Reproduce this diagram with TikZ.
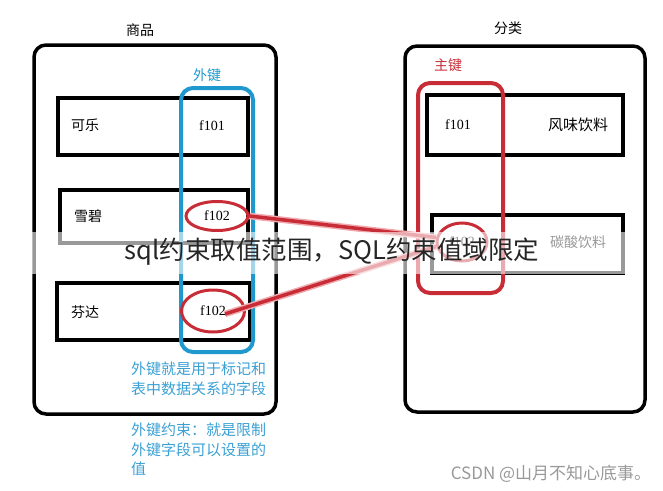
\documentclass[tikz,border=0pt]{standalone}
\usepackage{fontspec}
\setmainfont{Liberation Serif}
\newfontfamily\cjk{Noto Sans CJK SC}
\usetikzlibrary{shapes.geometric}
\definecolor{fkblue}{RGB}{30,152,205}
\definecolor{noteblue}{RGB}{58,160,212}
\definecolor{pkred}{RGB}{200,45,55}
\definecolor{halo}{RGB}{240,170,175}

\tikzset{
  table/.style={draw, line width=3.5pt, rounded corners=12pt},
  record/.style={draw, line width=4pt},
  fkbox/.style={draw=fkblue, line width=4pt, rounded corners=12pt},
  pkbox/.style={draw=pkred, line width=4pt, rounded corners=12pt},
  ring/.style={ellipse, draw=pkred, line width=3pt, font=\fontsize{14}{14}\selectfont},
  link/.style={pkred, line width=3.5pt, preaction={draw=halo, line width=6.5pt}},
  cn/.style={font=\cjk\fontsize{14}{14}\selectfont},
  val/.style={font=\fontsize{14}{14}\selectfont},
  note/.style={font=\cjk\fontsize{15}{19.5}\selectfont, text=noteblue, align=left, anchor=north west}
}

\begin{document}
\begin{tikzpicture}[x=1pt, y=-1pt, every node/.style={inner sep=0pt}]
\useasboundingbox (0,0) rectangle (663,490);
\node[table, minimum width=242pt, minimum height=369pt] (goods) at (155,229.5) {};
\node[table, minimum width=240pt, minimum height=366pt] (kinds) at (525,229) {};
\node[cn] (goodsname) at (140,30) {商品};
\node[cn] (kindsname) at (508,28) {分类};

\node[record, minimum width=190pt, minimum height=57pt] (g1) at (153,126.5) {};
\node[record, minimum width=188pt, minimum height=53pt] (g2) at (154,216.5) {};
\node[record, minimum width=193pt, minimum height=57pt] (g3) at (153.5,311.5) {};
\node[record, minimum width=196pt, minimum height=60pt] (c1) at (525,125) {};
\node[record, minimum width=191pt, minimum height=58pt] (c2) at (527.5,244) {};

\node[fkbox, minimum width=72pt, minimum height=264pt] (fk) at (217,220) {};
\node[pkbox, minimum width=85pt, minimum height=210pt] (pk) at (460.5,188) {};
\node[cn, text=fkblue] (fkname) at (207,75) {外键};
\node[cn, text=pkred] (pkname) at (448,65) {主键};

\node[cn] (n1) at (85,125) {可乐};
\node[cn] (n2) at (88,216) {雪碧};
\node[cn] (n3) at (85,312) {芬达};
\node[val] (k1) at (212,126) {f101};
\node[ring, minimum width=62pt, minimum height=29pt] (k2) at (217,216) {f102};
\node[ring, minimum width=63pt, minimum height=42pt] (k3) at (213,311) {f102};

\node[val] (p1) at (458,125) {f101};
\node[ring, minimum width=50pt, minimum height=38pt] (p2) at (462,242) {f102};
\node[cn, font=\cjk\fontsize{15}{15}\selectfont] (m1) at (578,125) {风味饮料};
\node[cn] (m2) at (578,242) {碳酸饮料};

\draw[link] (k2.east) -- (p2.170);
\draw[link] ([xshift=12pt,yshift=-3pt]k3.center) -- (p2.190);

\node[note] (fknote) at (131,362) {外键就是用于标记和\\表中数据关系的字段};
\node[note] (fkrule) at (131,423) {外键约束：就是限制\\外键字段可以设置的\\值};

\fill[white, opacity=0.6] (28,232) rectangle (630,274);
\node[font=\cjk\fontsize{25.5}{25.5}\selectfont, text=black!85] (title) at (332,252) {sql约束取值范围，SQL约束值域限定};
\node[font=\cjk\fontsize{17}{17}\selectfont, text=black!40] (mark) at (551,474) {CSDN @山月不知心底事。};
\end{tikzpicture}
\end{document}
